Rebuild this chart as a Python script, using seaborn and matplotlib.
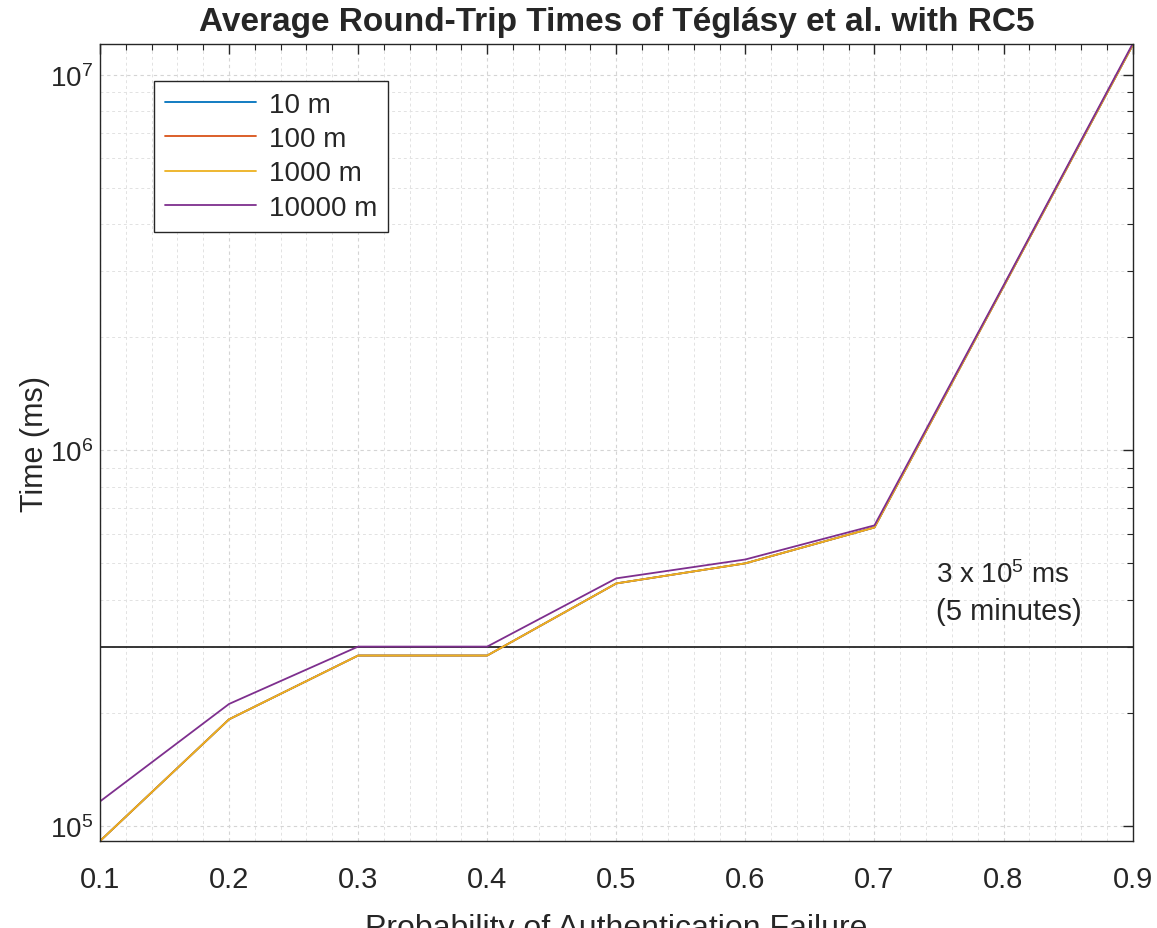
import numpy as np
import pandas as pd
import seaborn as sns
from matplotlib import pyplot as plt
from matplotlib.ticker import LogLocator, MultipleLocator

# probability of authentication failure
prob = [0.1, 0.2, 0.3, 0.4, 0.5, 0.6, 0.7, 0.8, 0.9]

# average round-trip time (ms) per distance
time_10m = [9.1e4, 1.92e5, 2.84e5, 2.84e5, 4.42e5, 5.0e5, 6.23e5, 2.73e6, 1.2e7]
time_100m = [9.1e4, 1.92e5, 2.84e5, 2.84e5, 4.42e5, 5.0e5, 6.23e5, 2.73e6, 1.2e7]
time_1000m = [9.1e4, 1.92e5, 2.84e5, 2.84e5, 4.42e5, 5.0e5, 6.23e5, 2.73e6, 1.2e7]
time_10000m = [1.16e5, 2.11e5, 3.0e5, 3.0e5, 4.56e5, 5.12e5, 6.31e5, 2.75e6, 1.21e7]

labels = ["10 m", "100 m", "1000 m", "10000 m"]
threshold = 3e5

sns.set_style("white")
plt.rcParams['font.family'] = ['Liberation Sans', 'DejaVu Sans']
plt.rcParams['mathtext.fontset'] = 'custom'
plt.rcParams['mathtext.rm'] = 'Liberation Sans'
plt.rcParams['mathtext.it'] = 'Liberation Sans'

#build long-form table for seaborn
frames = []
for lab, vals in zip(labels, [time_10m, time_100m, time_1000m, time_10000m]):
  frames.append(pd.DataFrame({"prob": prob, "time": vals, "dist": lab}))
df = pd.concat(frames, ignore_index=True)

fig = plt.figure(figsize=(11.57, 9.29), dpi=100)
ax = fig.add_axes([0.0864, 0.0936, 0.8925, 0.858])

palette = ["#0072BD", "#D95319", "#EDB120", "#7E2F8E"]
sns.lineplot(data=df, x="prob", y="time", hue="dist", hue_order=labels,
             palette=palette, linewidth=1.3, ax=ax, legend=True)

#5 minute threshold line
ax.axhline(threshold, color="#262626", linewidth=1.3, zorder=1)
ax.text(0.748, 4.68e5, "3 x 10$^5$ ms", fontsize=20, va="center", color="#262626")
ax.text(0.748, 3.74e5, "(5 minutes)", fontsize=21, va="center", color="#262626")

ax.set_yscale("log")
ax.set_xlim(0.1, 0.9)
ax.set_ylim(9.1e4, 1.21e7)
ax.xaxis.set_major_locator(MultipleLocator(0.1))
ax.xaxis.set_minor_locator(MultipleLocator(0.02))
ax.yaxis.set_major_locator(LogLocator(base=10))
ax.yaxis.set_minor_locator(LogLocator(base=10, subs=np.arange(2, 10)))

#matlab-like grid and ticks
ax.grid(True, which="major", linestyle=(0, (3, 3)), color="#d4d4d4", linewidth=0.8)
ax.grid(True, which="minor", linestyle=(0, (3, 3)), color="#e2e2e2", linewidth=0.7)
ax.tick_params(which="both", direction="in", top=True, right=True, colors="#262626",
               labelsize=21)
ax.tick_params(which="major", length=7, width=1)
ax.tick_params(which="minor", length=4, width=0.8)
ax.tick_params(axis="x", pad=17)
ax.tick_params(axis="y", pad=5, labelsize=20)
for s in ax.spines.values():
  s.set_color("#262626")
  s.set_linewidth(1)

ax.set_title("Average Round-Trip Times of Téglásy et al. with RC5",
             fontsize=24, fontweight="bold", pad=10)
ax.set_xlabel("Probability of Authentication Failure", fontsize=23, labelpad=15, color="#262626")
ax.set_ylabel("Time (ms)", fontsize=22, labelpad=0, color="#262626")

leg = ax.legend(loc="upper left", bbox_to_anchor=(0.052, 0.954), fontsize=20,
                frameon=True, fancybox=False, framealpha=1, edgecolor="#262626",
                handlelength=3.3, handletextpad=0.45, borderpad=0.4, labelspacing=0.3,
                borderaxespad=0)
leg.get_frame().set_linewidth(1)
for line in leg.get_lines():
  line.set_linewidth(1.3)

fig.savefig("out.png", dpi=100)
